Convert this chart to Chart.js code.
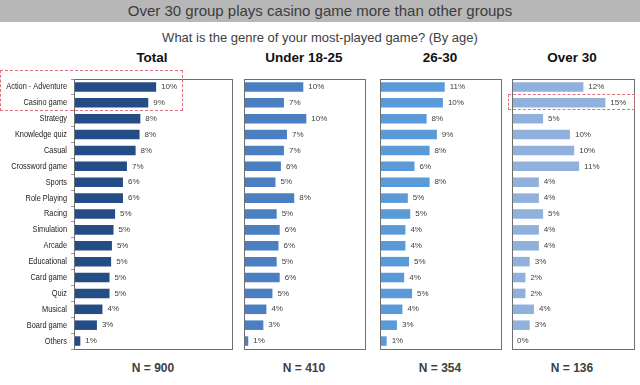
<!DOCTYPE html>
<html>
<head>
<meta charset="utf-8">
<script src="https://cdn.jsdelivr.net/npm/chart.js@4"></script>
<style>
  body { margin: 0; background: #fff; width: 640px; height: 385px; position: relative; overflow: hidden; font-family: "Liberation Sans", Arial, sans-serif; }
  .band { position: absolute; left: 0; top: 0; width: 640px; height: 22px; background: #b7b7b7; color: #3c3c3c; font-size: 15px; line-height: 22px; text-align: center; }
  .sub { position: absolute; left: 0; top: 30px; width: 640px; text-align: center; font-size: 13px; color: #404040; }
  .ptitle { position: absolute; top: 50px; font-weight: bold; font-size: 13.5px; color: #111; text-align: center; width: 140px; }
  .nlab { position: absolute; top: 361px; font-weight: bold; font-size: 12px; color: #404040; text-align: center; width: 140px; }
  canvas { position: absolute; }
  .red { position: absolute; border: 1px dashed #e0707e; }
</style>
</head>
<body>
<div class="band">Over 30 group plays casino game more than other groups</div>
<div class="sub">What is the genre of your most-played game? (By age)</div>

<div class="ptitle" style="left:82px">Total</div>
<div class="ptitle" style="left:234px">Under 18-25</div>
<div class="ptitle" style="left:370px">26-30</div>
<div class="ptitle" style="left:502px">Over 30</div>

<canvas id="cTotal" style="left:0px;top:78px"></canvas>
<canvas id="cU25" style="left:243px;top:78px"></canvas>
<canvas id="c2630" style="left:379px;top:78px"></canvas>
<canvas id="cO30" style="left:511px;top:78px"></canvas>

<div class="nlab" style="left:83px">N = 900</div>
<div class="nlab" style="left:234px">N = 410</div>
<div class="nlab" style="left:370px">N = 354</div>
<div class="nlab" style="left:502px">N = 136</div>

<div class="red" style="left:0px;top:70px;width:181px;height:39px"></div>
<div class="red" style="left:508px;top:94px;width:125px;height:14px"></div>

<script>
const genres = ['Action - Adventure', 'Casino game', 'Strategy', 'Knowledge quiz', 'Casual', 'Crossword game', 'Sports', 'Role Playing', 'Racing', 'Simulation', 'Arcade', 'Educational', 'Card game', 'Quiz', 'Musical', 'Board game', 'Others'];

// share of respondents (%)
const total = [10.4, 9.4, 8.4, 8.3, 7.8, 6.7, 6.2, 6.2, 5.2, 5.0, 4.8, 4.7, 4.5, 4.5, 3.6, 2.9, 0.8];
const under1825 = [9.8, 6.6, 10.3, 7.1, 6.6, 6.1, 5.2, 8.3, 5.4, 5.9, 5.7, 5.4, 5.9, 4.7, 3.7, 3.2, 0.7];
const age2630 = [10.7, 10.4, 7.7, 9.4, 8.2, 5.7, 8.2, 4.6, 5.0, 4.2, 4.2, 4.8, 4.0, 5.3, 3.7, 2.8, 1.1];
const over30 = [11.7, 15.3, 5.1, 9.5, 10.2, 11.0, 4.4, 4.4, 5.1, 4.4, 4.4, 2.9, 2.2, 2.2, 3.6, 2.9, 0];

const FONT = '"Liberation Sans", Arial, sans-serif';

const boxAndLabels = {
    id: 'boxAndLabels',
    afterDatasetsDraw(chart) {
        const { ctx, chartArea: a } = chart;
        ctx.save();
        ctx.strokeStyle = '#6e6e6e';
        ctx.lineWidth = 1;
        ctx.strokeRect(Math.round(a.left) + 0.5, Math.round(a.top) + 0.5, Math.round(a.right - a.left), Math.round(a.bottom - a.top));
        ctx.fillStyle = '#404040';
        ctx.font = '8px ' + FONT;
        ctx.textBaseline = 'middle';
        const meta = chart.getDatasetMeta(0);
        const vals = chart.data.datasets[0].data;
        meta.data.forEach((bar, i) => {
            ctx.fillText(Math.round(vals[i]) + '%', bar.x + 5, bar.y);
        });
        // category names, a bit condensed like the original
        if (chart.options.scales.y.display) {
            const y = chart.scales.y;
            ctx.fillStyle = '#222';
            ctx.font = '9px ' + FONT;
            ctx.textAlign = 'right';
            chart.data.labels.forEach((lab, i) => {
                const py = y.getPixelForValue(i);
                ctx.save();
                ctx.translate(67, py);
                ctx.scale(0.82, 1);
                ctx.fillText(lab, 0, 0);
                ctx.restore();
            });
        }
        ctx.restore();
    }
};

function panel(id, data, color, showAxis) {
    const el = document.getElementById(id);
    return new Chart(el, {
        type: 'bar',
        data: {
            labels: genres,
            datasets: [{
                data: data,
                backgroundColor: color,
                barPercentage: 0.6,
                categoryPercentage: 1
            }]
        },
        options: {
            indexAxis: 'y',
            responsive: false,
            animation: false,
            layout: { padding: { top: 1, bottom: 1, left: showAxis ? 0 : 1, right: 1 } },
            plugins: { legend: { display: false }, tooltip: { enabled: false } },
            scales: {
                x: { display: false, min: 0, max: 20 },
                y: {
                    display: showAxis,
                    afterFit: (s) => { s.width = showAxis ? 74 : 0; s.paddingTop = 0; s.paddingBottom = 0; },
                    grid: { drawOnChartArea: false, offset: true, tickLength: 3, color: '#999' },
                    border: { color: '#6e6e6e' },
                    ticks: { display: false, autoSkip: false }
                }
            }
        },
        plugins: [boxAndLabels]
    });
}

function sizeCanvas(id, w, h) {
    const el = document.getElementById(id);
    el.width = w; el.height = h;
    el.style.width = w + 'px'; el.style.height = h + 'px';
}
sizeCanvas('cTotal', 233, 272);
sizeCanvas('cU25', 123, 272);
sizeCanvas('c2630', 123, 272);
sizeCanvas('cO30', 124, 272);

panel('cTotal', total, '#244d86', true);
panel('cU25', under1825, '#4a7fc1', false);
panel('c2630', age2630, '#5a9ad9', false);
panel('cO30', over30, '#8fb1dc', false);
</script>
</body>
</html>
